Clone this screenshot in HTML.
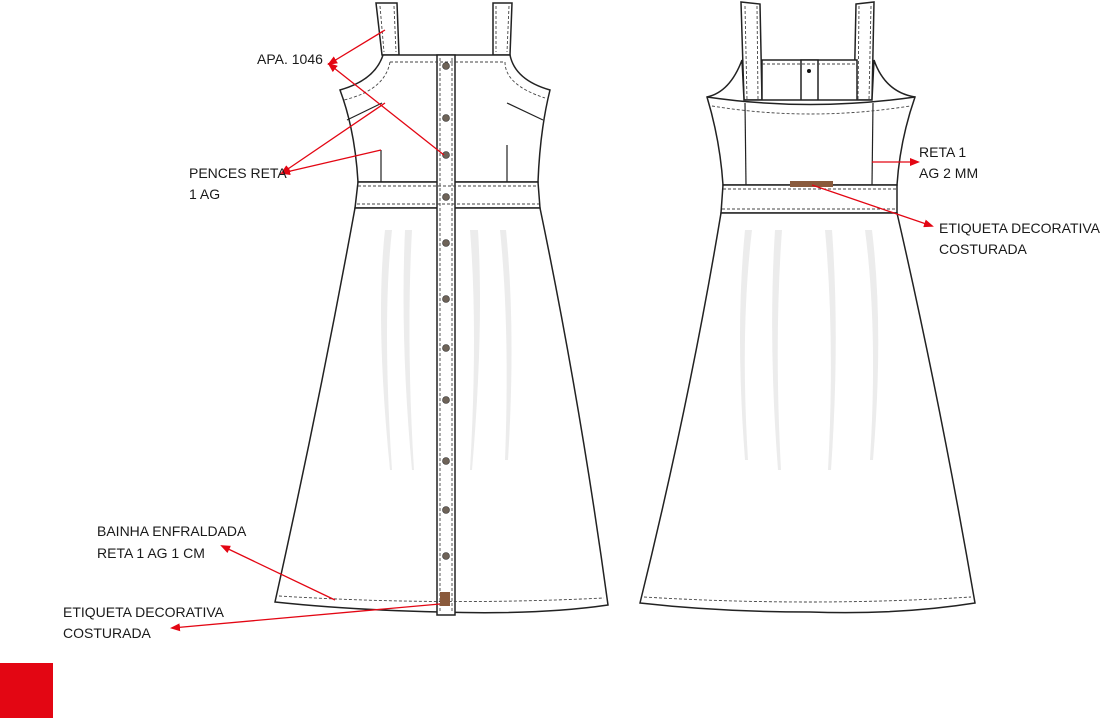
<!DOCTYPE html>
<html><head><style>
body{margin:0;background:#fff;}
svg{display:block}
text{font-family:"Liberation Sans",sans-serif;font-size:14px;fill:#1a1a1a}
</style></head><body>
<svg width="1100" height="718" viewBox="0 0 1100 718">
<defs><marker id="a" markerWidth="10" markerHeight="8" refX="8" refY="4" orient="auto" markerUnits="userSpaceOnUse"><path d="M0,0 L10,4 L0,8 z" fill="#e30613"/></marker></defs>
<g fill="#fff" stroke="#222" stroke-width="1.5">
<!-- FRONT -->
<path d="M376,3 L397,3 L399,55 L382,55 Z"/>
<path d="M493,3 L512,3 L510,55 L493,55 Z"/>
<path d="M383,55 L510,55 Q515,80 550,90 Q540,130 538,182 L358,182 Q355,130 340,90 Q375,80 383,55 Z"/>
<path d="M358,182 L538,182 L540,208 L355,208 Z"/>
<path d="M355,208 L540,208 Q580,400 608,605 Q540,615 440,612 Q350,610 275,602 Q320,400 355,208 Z"/>
<rect x="437" y="55" width="18" height="560"/>
<!-- BACK -->
<path d="M741,2 L760,4 L762,100 L744,100 Z"/>
<path d="M856,4 L874,2 L872,100 L854,100 Z"/>
<rect x="762" y="60" width="95" height="44"/>
<rect x="801" y="60" width="17" height="46"/>
<path d="M707,97 Q730,92 742,60 L744,100 L872,100 L874,60 Q885,92 915,97 Q900,140 897,185 L723,185 Q720,140 707,97 Z"/>
<path d="M707,97 Q810,112 915,97" fill="none"/>
<path d="M723,185 L897,185 L897,213 L721,213 Z"/>
<path d="M721,213 L897,213 Q940,400 975,603 Q900,615 810,612 Q720,612 640,603 Q690,400 721,213 Z"/>
</g>
<g fill="none" stroke="#222" stroke-width="1.2">
<line x1="347" y1="120" x2="382" y2="103"/><line x1="381" y1="150" x2="381" y2="182"/>
<line x1="507" y1="103" x2="543" y2="120"/><line x1="507" y1="145" x2="507" y2="182"/>
<line x1="745" y1="103" x2="746" y2="185"/><line x1="873" y1="103" x2="872" y2="185"/>
</g>
<g fill="none" stroke="#444" stroke-width="0.9" stroke-dasharray="3,2">
<path d="M390,62 L505,62 Q505,85 545,98"/><path d="M390,62 Q385,90 344,100"/>
<line x1="358" y1="186" x2="538" y2="186"/><line x1="357" y1="204" x2="539" y2="204"/>
<line x1="440" y1="58" x2="440" y2="612"/><line x1="452" y1="58" x2="452" y2="612"/>
<path d="M279,596 Q440,606 604,598"/>
<line x1="380" y1="6" x2="384" y2="52"/><line x1="394" y1="6" x2="396" y2="52"/>
<line x1="496" y1="6" x2="496" y2="52"/><line x1="509" y1="6" x2="507" y2="52"/>
<line x1="745" y1="6" x2="747" y2="100"/><line x1="757" y1="6" x2="758" y2="100"/>
<line x1="859" y1="6" x2="858" y2="100"/><line x1="871" y1="6" x2="869" y2="100"/>
<line x1="762" y1="64" x2="857" y2="64"/>
<path d="M712,106 Q810,122 910,106"/>
<line x1="723" y1="189" x2="897" y2="189"/><line x1="722" y1="209" x2="897" y2="209"/>
<path d="M644,597 Q810,607 971,597"/>
</g>
<g fill="#6e6358" stroke="#333" stroke-width="0.6">
<circle cx="446" cy="66" r="3.5"/><circle cx="446" cy="118" r="3.5"/><circle cx="446" cy="155" r="3.5"/><circle cx="446" cy="197" r="3.5"/><circle cx="446" cy="243" r="3.5"/><circle cx="446" cy="299" r="3.5"/><circle cx="446" cy="348" r="3.5"/><circle cx="446" cy="400" r="3.5"/><circle cx="446" cy="461" r="3.5"/><circle cx="446" cy="510" r="3.5"/><circle cx="446" cy="556" r="3.5"/>
</g>
<rect x="440" y="592" width="10" height="14" fill="#8a5a3c"/>
<rect x="790" y="181" width="43" height="6" fill="#8a5a3c"/>
<circle cx="809" cy="71" r="2" fill="#111"/>
<g fill="#ececec">
<path d="M385,230 Q375,320 390,470 L392,470 Q382,320 392,230Z"/>
<path d="M405,230 Q400,340 412,470 L414,470 Q406,340 412,230Z"/>
<path d="M470,230 Q478,330 470,470 L472,470 Q484,330 478,230Z"/>
<path d="M500,230 Q510,330 505,460 L508,460 Q516,330 506,230Z"/>
<path d="M745,230 Q735,330 745,460 L748,460 Q740,330 752,230Z"/>
<path d="M775,230 Q768,340 778,470 L781,470 Q774,340 782,230Z"/>
<path d="M825,230 Q835,340 828,470 L831,470 Q840,340 832,230Z"/>
<path d="M865,230 Q878,330 870,460 L873,460 Q884,330 872,230Z"/>
</g>
<g stroke="#e30613" stroke-width="1.3" fill="none" marker-end="url(#a)">
<line x1="385" y1="30" x2="329" y2="64"/>
<line x1="444" y1="155" x2="329" y2="64"/>
<line x1="385" y1="103" x2="282" y2="173"/>
<line x1="381" y1="150" x2="282" y2="173"/>
<line x1="335" y1="600" x2="222" y2="546"/>
<line x1="440" y1="604" x2="172" y2="628"/>
<line x1="872" y1="162" x2="918" y2="162"/>
<line x1="812" y1="185" x2="932" y2="226"/>
</g>
<text x="257" y="64">APA. 1046</text>
<text x="189" y="178">PENCES RETA</text><text x="189" y="199">1 AG</text>
<text x="97" y="536">BAINHA ENFRALDADA</text><text x="97" y="558">RETA 1 AG 1 CM</text>
<text x="63" y="617">ETIQUETA DECORATIVA</text><text x="63" y="638">COSTURADA</text>
<text x="919" y="157">RETA 1</text><text x="919" y="178">AG 2 MM</text>
<text x="939" y="233">ETIQUETA DECORATIVA</text><text x="939" y="254">COSTURADA</text>
<rect x="0" y="663" width="53" height="55" fill="#e30613"/>
</svg>
</body></html>
